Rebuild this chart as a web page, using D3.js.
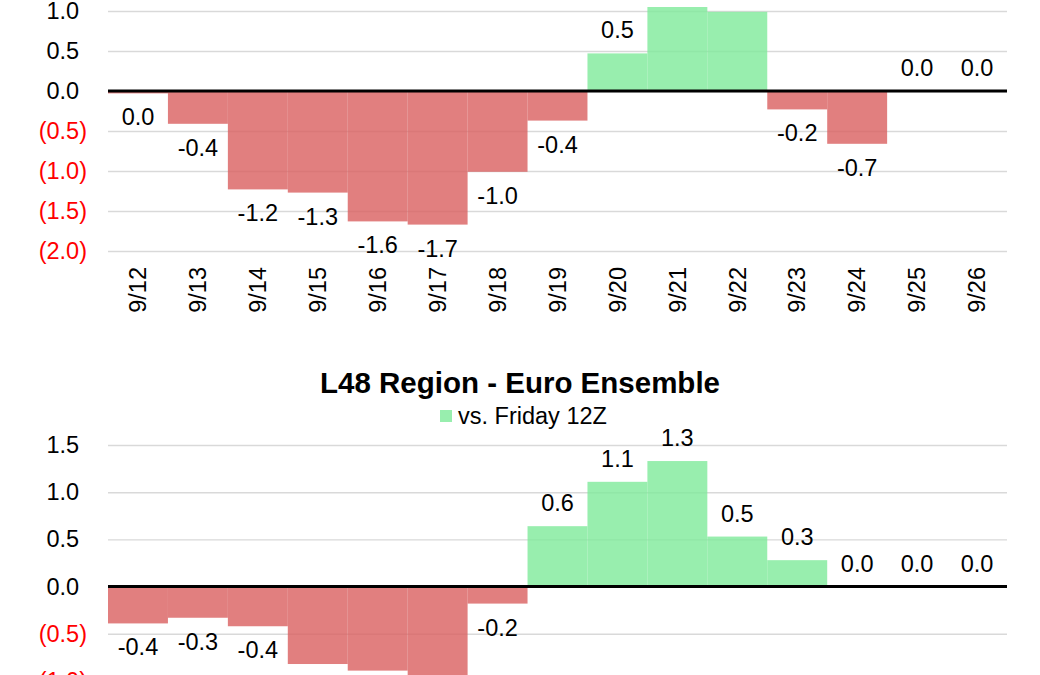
<!DOCTYPE html>
<html>
<head>
<meta charset="utf-8">
<script src="https://cdn.jsdelivr.net/npm/d3@7"></script>
<style>
    body { margin: 0; background: #fff; }
    svg { display: block; font-family: "Liberation Sans", Arial, sans-serif; }
</style>
</head>
<body>
<div id="chart"></div>
<script>
// categories shared by both panels
var days = ["9/12", "9/13", "9/14", "9/15", "9/16", "9/17", "9/18", "9/19",
    "9/20", "9/21", "9/22", "9/23", "9/24", "9/25", "9/26"];
// upper panel (title is cropped off in the reference)
var topValues = [-0.03, -0.41, -1.23, -1.27, -1.63, -1.67, -1.01, -0.37,
    0.47, 1.05, 0.99, -0.23, -0.66, 0.0, 0.0];
var topTicks = [-2, -1.5, -1, -0.5, 0, 0.5, 1];
// lower panel
var botTitle = "L48 Region - Euro Ensemble";
var botLegend = "vs. Friday 12Z";
var botValues = [-0.39, -0.33, -0.42, -0.82, -0.89, -0.95, -0.18, 0.64,
    1.11, 1.33, 0.53, 0.28, 0.0, 0.0, 0.0];
var botTicks = [-1, -0.5, 0, 0.5, 1, 1.5];

var W = 1040, H = 675;
var plotLeft = 108, plotRight = 1007;
var RED = "#d95f5f", GREEN = "#7eea9a";
var FONT = 23.5;

var loc = d3.formatLocale({ decimal: ".", thousands: ",", grouping: [3], currency: ["$", ""], minus: "-" });
var fmt = loc.format(".1f");

var svg = d3.select("#chart").append("svg")
    .attr("width", W)
    .attr("height", H);
svg.append("rect").attr("width", W).attr("height", H).attr("fill", "#fff");

var x = d3.scaleBand().domain(days).range([plotLeft, plotRight]).padding(0);

function drawPanel(values, ticks, y, showDays) {
    var g = svg.append("g");

    // gridlines
    var grid = g.append("g")
        .attr("transform", "translate(" + plotLeft + ",0)")
        .call(d3.axisLeft(y).tickValues(ticks).tickSize(-(plotRight - plotLeft)).tickFormat(""));
    grid.select(".domain").remove();
    grid.selectAll("line").attr("stroke", "#d9d9d9").attr("stroke-width", 1.4);

    // value tick labels, Excel style 0.0_);[Red](0.0)
    var yAxis = g.append("g")
        .attr("transform", "translate(" + plotLeft + ",0)")
        .call(d3.axisLeft(y).tickValues(ticks).tickSize(0).tickPadding(21)
            .tickFormat(function (d) { return d < 0 ? "(" + fmt(-d) + ")" : fmt(d); }));
    yAxis.select(".domain").remove();
    yAxis.selectAll("text")
        .attr("font-size", FONT)
        .attr("font-family", "Liberation Sans, Arial, sans-serif")
        .attr("fill", function (d) { return d < 0 ? "#ff0000" : "#000"; })
        .each(function (d) {
            if (d >= 0) d3.select(this).append("tspan").attr("fill-opacity", 0).text(")");
        });

    // bars
    g.selectAll("rect.bar").data(values).enter().append("rect")
        .attr("class", "bar")
        .attr("x", function (d, i) { return x(days[i]); })
        .attr("width", x.bandwidth())
        .attr("y", function (d) { return y(Math.max(0, d)); })
        .attr("height", function (d) { return Math.abs(y(d) - y(0)); })
        .attr("fill", function (d) { return d < 0 ? RED : GREEN; })
        .attr("fill-opacity", 0.8);

    // zero line
    g.append("line")
        .attr("x1", plotLeft).attr("x2", plotRight)
        .attr("y1", y(0)).attr("y2", y(0))
        .attr("stroke", "#000").attr("stroke-width", 3);

    // data labels
    g.selectAll("text.lbl").data(values).enter().append("text")
        .attr("class", "lbl")
        .attr("x", function (d, i) { return x(days[i]) + x.bandwidth() / 2; })
        .attr("y", function (d) { return d < 0 ? y(d) + 32 : y(d) - 15; })
        .attr("text-anchor", "middle")
        .attr("font-size", FONT)
        .attr("fill", "#000")
        .text(function (d) { return fmt(d); });

    if (showDays) {
        var xAxis = g.append("g")
            .attr("transform", "translate(0," + (y(ticks[0]) + 16) + ")")
            .call(d3.axisBottom(x).tickSize(0).tickPadding(0));
        xAxis.select(".domain").remove();
        xAxis.selectAll("text")
            .attr("font-size", FONT)
            .attr("font-family", "Liberation Sans, Arial, sans-serif")
            .attr("fill", "#000")
            .attr("text-anchor", "end")
            .attr("transform", "rotate(-90)")
            .attr("x", 0)
            .attr("y", 0)
            .attr("dy", "0.35em");
    }
    return g;
}

var yTop = d3.scaleLinear().domain([-2, 1.5]).range([251, -29]);
drawPanel(topValues, topTicks, yTop, true);

var yBot = d3.scaleLinear().domain([-1, 1.5]).range([681, 445]);
var bot = drawPanel(botValues, botTicks, yBot, false);

bot.append("text")
    .attr("x", W / 2)
    .attr("y", 393)
    .attr("text-anchor", "middle")
    .attr("font-size", 29.5)
    .attr("font-weight", "bold")
    .text(botTitle);

bot.append("rect")
    .attr("x", 440).attr("y", 410)
    .attr("width", 12).attr("height", 12)
    .attr("fill", GREEN).attr("fill-opacity", 0.8);
bot.append("text")
    .attr("x", 458)
    .attr("y", 424)
    .attr("font-size", FONT)
    .text(botLegend);
</script>
</body>
</html>
